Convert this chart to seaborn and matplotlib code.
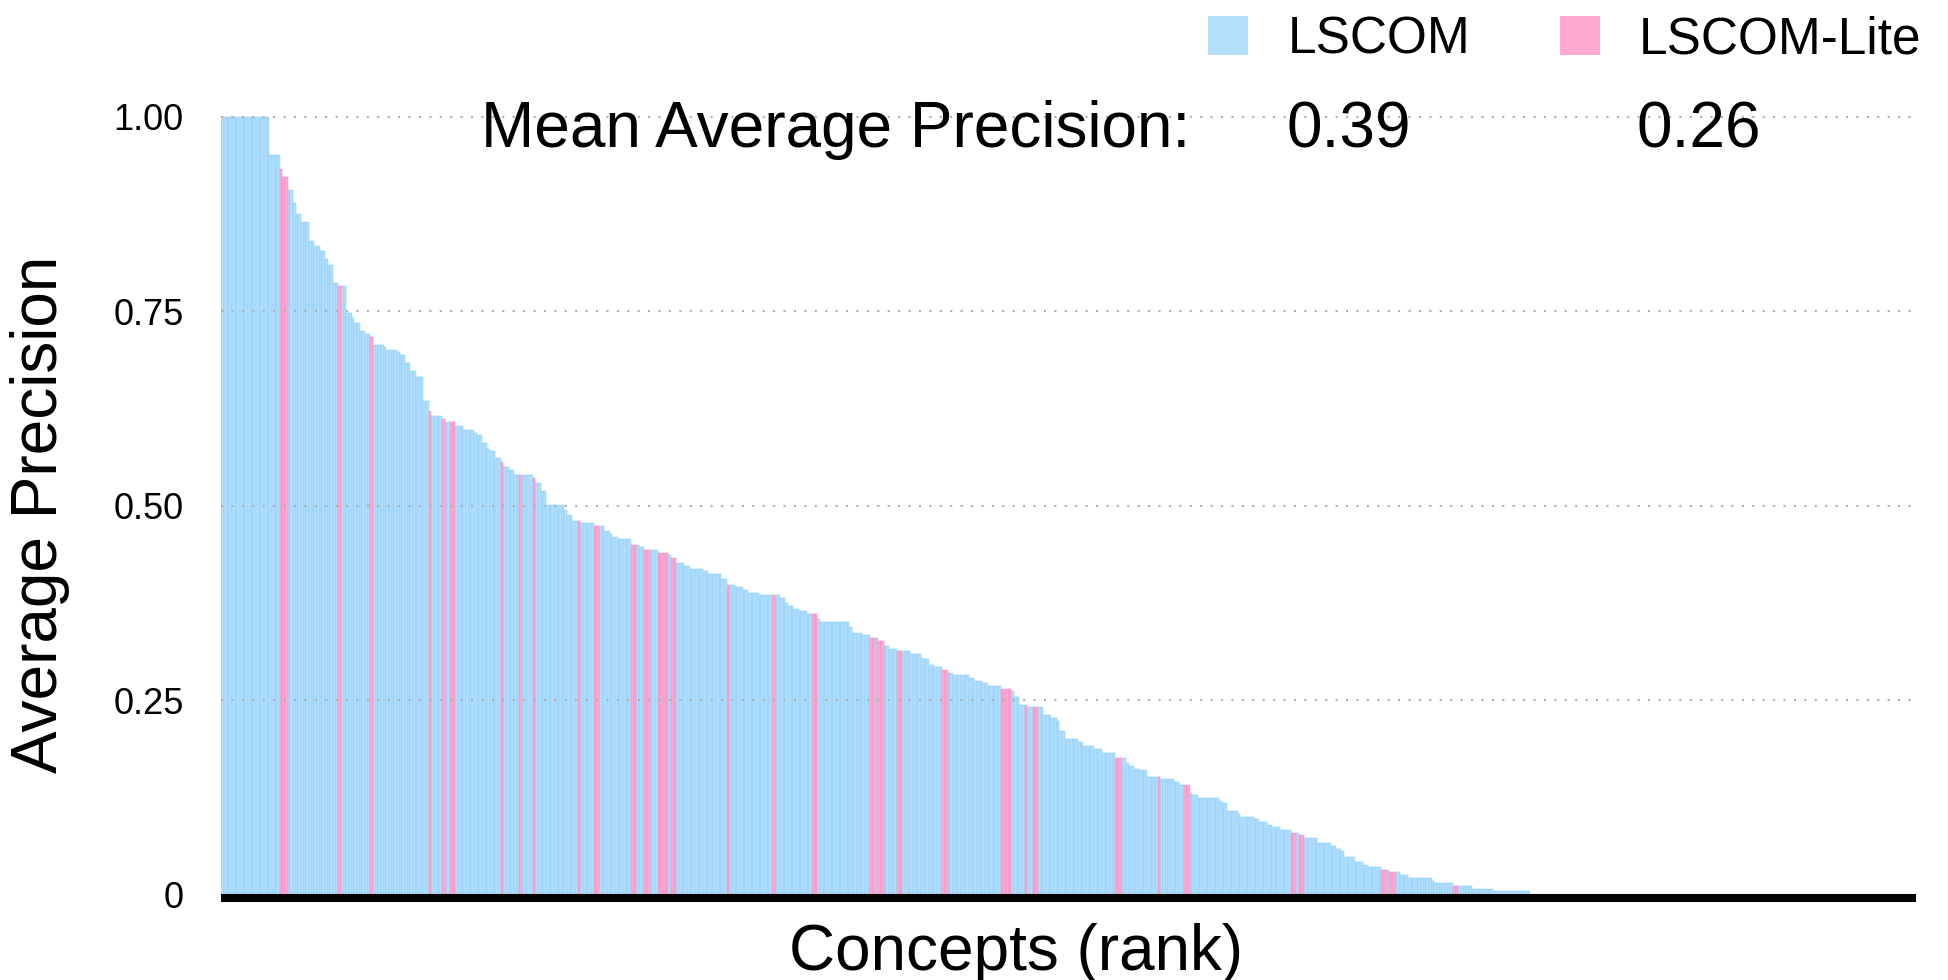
import numpy as np
import pandas as pd
import seaborn as sns
import matplotlib.pyplot as plt
from matplotlib.patches import Rectangle

# average precision of every concept, sorted by rank, stored as runs of equal value
step_ap = [
    1.000, 0.951, 0.933, 0.923, 0.906, 0.889, 0.875, 0.865, 0.840, 0.834, 0.827, 0.817, 0.809,
    0.786, 0.782, 0.782, 0.748, 0.741, 0.735, 0.725, 0.721, 0.717, 0.707, 0.704, 0.700, 0.697,
    0.694, 0.684, 0.673, 0.666, 0.635, 0.622, 0.615, 0.612, 0.608, 0.608, 0.602, 0.598, 0.594, 0.591,
    0.581, 0.573, 0.570, 0.562, 0.556, 0.550, 0.546, 0.540, 0.540, 0.540, 0.536, 0.529, 0.519, 0.501,
    0.495, 0.488, 0.480, 0.480, 0.478, 0.474, 0.474, 0.468, 0.464, 0.460, 0.457, 0.450, 0.450, 0.447,
    0.443, 0.443, 0.440, 0.437, 0.433, 0.427, 0.423, 0.419, 0.416, 0.412, 0.406, 0.398, 0.398,
    0.396, 0.392, 0.388, 0.385, 0.385, 0.385, 0.382, 0.375, 0.371, 0.367, 0.365, 0.361, 0.361,
    0.355, 0.351, 0.344, 0.337, 0.334, 0.330, 0.330, 0.326, 0.320, 0.316,
    0.313, 0.313, 0.309, 0.305, 0.303, 0.295, 0.293, 0.289, 0.285, 0.282, 0.279, 0.275, 0.272,
    0.269, 0.265, 0.262, 0.254, 0.244, 0.244, 0.242, 0.242, 0.242, 0.231, 0.227,
    0.224, 0.211, 0.200, 0.197, 0.191, 0.187, 0.183, 0.176, 0.176, 0.170, 0.166, 0.162, 0.160,
    0.152, 0.152, 0.149, 0.145, 0.141, 0.141, 0.131, 0.129, 0.125,
    0.121, 0.118, 0.108, 0.104, 0.100, 0.098, 0.094, 0.090, 0.088, 0.084, 0.080, 0.080, 0.077,
    0.073, 0.067, 0.063, 0.059, 0.057, 0.049, 0.043, 0.039, 0.036, 0.032, 0.032, 0.029,
    0.029, 0.026, 0.022, 0.018, 0.016, 0.012, 0.012, 0.008, 0.005, 0.0, 0.0, 0.0,
]
step_len = [
    18, 4, 1, 2, 2, 1, 2, 3, 2, 2, 2, 1, 2,
    2, 1, 2, 2, 1, 2, 2, 2, 1, 4, 1, 4, 1,
    2, 2, 2, 3, 2, 1, 4, 1, 2, 2, 3, 4, 1, 2,
    2, 1, 2, 2, 1, 2, 2, 2, 1, 4, 1, 2, 2, 7,
    1, 2, 2, 1, 5, 2, 2, 2, 1, 2, 5, 2, 1, 2,
    2, 3, 4, 1, 2, 3, 2, 5, 2, 5, 2, 1, 2,
    3, 2, 4, 5, 1, 2, 2, 1, 2, 2, 3, 2, 2,
    1, 11, 1, 4, 3, 2, 1, 2, 2, 3,
    2, 3, 4, 1, 2, 2, 3, 2, 2, 6, 2, 3, 2,
    5, 4, 1, 2, 2, 1, 2, 2, 2, 3, 2,
    1, 2, 5, 2, 4, 3, 5, 2, 2, 1, 2, 2, 3,
    4, 1, 5, 2, 2, 2, 1, 2, 8,
    1, 2, 4, 1, 5, 2, 3, 2, 3, 4, 2, 1, 2,
    5, 5, 2, 2, 1, 4, 3, 2, 5, 2, 1, 2,
    2, 3, 9, 1, 7, 2, 5, 8, 14, 15, 2, 10,
]
# 1 = the concept is also one of the LSCOM-Lite concepts
step_lite = [
    0, 0, 1, 1, 0, 0, 0, 0, 0, 0, 0, 0, 0,
    0, 1, 0, 0, 0, 0, 0, 0, 1, 0, 0, 0, 0,
    0, 0, 0, 0, 0, 1, 0, 1, 0, 1, 0, 0, 0, 0,
    0, 0, 0, 0, 1, 0, 0, 0, 1, 0, 1, 0, 0, 0,
    0, 0, 0, 1, 0, 1, 0, 0, 0, 0, 0, 1, 0, 0,
    1, 0, 1, 0, 1, 0, 0, 0, 0, 0, 0, 1, 0,
    0, 0, 0, 0, 1, 0, 0, 0, 0, 0, 0, 0, 1,
    0, 0, 0, 0, 0, 1, 0, 1, 0, 0,
    1, 0, 0, 0, 0, 0, 0, 1, 0, 0, 0, 0, 0,
    0, 1, 0, 0, 0, 1, 0, 1, 0, 0, 0,
    0, 0, 0, 0, 0, 0, 0, 1, 0, 0, 0, 0, 0,
    0, 1, 0, 0, 0, 1, 0, 0, 0,
    0, 0, 0, 0, 0, 0, 0, 0, 0, 0, 1, 0, 1,
    0, 0, 0, 0, 0, 0, 0, 0, 0, 1, 0, 1,
    0, 0, 0, 0, 0, 1, 0, 0, 0, 0, 1, 0,
]

n_slots = 637  # rank slots shown on the x axis
series_names = ["LSCOM", "LSCOM-Lite"]
series_colors = ["#b5e0fd", "#ffa9d3"]
edge_colors = ["#86cbf8", "#f08cbc"]
map_values = ["0.39", "0.26"]
ytick_values = [0, 0.25, 0.5, 0.75, 1.0]
ytick_labels = ["0", "0.25", "0.50", "0.75", "1.00"]

W, H = 1949, 980

ap = np.repeat(step_ap, step_len)
lite = np.repeat(step_lite, step_len)
df = pd.DataFrame({
    "rank": np.arange(len(ap)),
    "ap": ap,
    "collection": np.where(lite == 1, series_names[1], series_names[0]),
})

sns.set_style("white")
plt.rcParams["font.family"] = ["Liberation Sans", "DejaVu Sans"]
plt.rcParams["text.color"] = "black"
plt.rcParams["ytick.color"] = "black"

fig = plt.figure(figsize=(W / 100, H / 100), dpi=100)
ymin, ymax = -0.012, 1.02
px_per_unit = 778.4
bottom_px = 895 + (-ymin) * px_per_unit
ax = fig.add_axes([221.3 / W, (H - bottom_px) / H, (1916 - 221.3) / W,
                   (ymax - ymin) * px_per_unit / H])

sns.barplot(
    data=df, x="rank", y="ap", hue="collection", hue_order=series_names,
    palette=dict(zip(series_names, series_colors)), saturation=1,
    dodge=False, width=1.0, native_scale=True, errorbar=None,
    legend=False, linewidth=0.35, ax=ax,
)
for container, ec in zip(ax.containers, edge_colors):
    for bar in container:
        bar.set_edgecolor(ec)

ax.set_xlim(-0.5, n_slots - 0.5)
ax.set_ylim(ymin, ymax)
ax.set_xticks([])
ax.set_yticks(ytick_values)
ax.set_yticklabels(ytick_labels, fontsize=26, color="black")
ax.tick_params(axis="y", length=0, pad=27)
ax.set_xlabel("")
ax.set_ylabel("")
for s in ax.spines.values():
    s.set_visible(False)

ax.set_axisbelow(False)
ax.yaxis.grid(True, linestyle=(0, (1, 4)), color="#b0b0b0", linewidth=1.5)
ax.axhline(-0.004, color="black", linewidth=5.8, zorder=3, solid_capstyle="butt")

# axis titles
fig.text(40 / W, 1 - 514 / H, "Average Precision", rotation=90,
         ha="center", va="center", fontsize=46)
fig.text(1016 / W, 1 - 970 / H, "Concepts (rank)", ha="center",
         va="baseline", fontsize=46)

# mean average precision row
fig.text(481 / W, 1 - 147 / H, "Mean Average Precision:", ha="left",
         va="baseline", fontsize=46)
for xpos, val in zip([1287, 1637], map_values):
    fig.text(xpos / W, 1 - 147 / H, val, ha="left", va="baseline", fontsize=46)

# legend
for xsq, xtxt, name, col in zip([1208, 1560], [1288, 1639], series_names, series_colors):
    fig.patches.append(Rectangle((xsq / W, 1 - 55 / H), 40 / W, 39 / H,
                                 transform=fig.transFigure, facecolor=col,
                                 edgecolor="none"))
    fig.text(xtxt / W, 1 - 53 / H, name, ha="left", va="baseline", fontsize=37)

fig.savefig("out.png", dpi=100)
